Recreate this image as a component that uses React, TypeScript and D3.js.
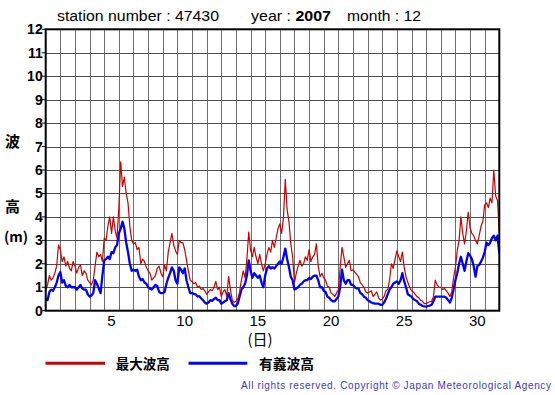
import React from "react";
import * as d3 from "d3";

// 3-hourly readings, December 2007, station 47430 (index i -> day offset i*3/24)
const maxWave: number[] = [
  0.85, 1.1, 1.5, 1.3, 1.4, 1.6, 1.9, 2.8,
  2.6, 2.1, 2.3, 1.9, 2.1, 1.8, 1.7, 2.1,
  1.9, 1.6, 1.85, 1.95, 1.5, 1.7, 1.6, 1.3,
  1.2, 1.1, 1.3, 1.9, 2.5, 2.3, 2.4, 2.1,
  3.1, 3.0, 3.6, 4.0, 3.3, 4.0, 3.4, 3.1,
  4.4, 6.35, 5.3, 5.7, 5.0, 4.6, 3.6, 3.0,
  2.85, 2.9, 2.6, 2.7, 2.0, 2.2, 2.1, 1.85,
  1.7, 1.6, 1.3, 1.4, 1.5, 1.8, 1.9, 1.6,
  1.45, 1.95, 1.7, 2.5, 2.9, 3.3, 2.8, 2.55,
  2.4, 3.0, 2.9, 2.9, 2.6, 2.15, 1.7, 1.3,
  1.25, 1.15, 1.2, 1.0, 1.05, 0.9, 0.95, 0.85,
  0.7, 0.8, 0.9, 0.85, 1.0, 1.25, 0.9, 1.0,
  0.6, 0.8, 0.9, 0.6, 1.45, 0.9, 0.45, 0.35,
  0.4, 0.5, 0.8, 1.3, 1.7, 1.4, 2.2, 3.35,
  2.6, 2.3, 2.7, 2.3, 2.0, 2.4, 2.0, 1.7,
  2.0, 2.4, 2.7, 2.5, 3.0, 2.7, 3.1, 3.5,
  3.7, 3.3, 4.0, 5.6, 4.3, 3.8, 2.85, 2.3,
  1.2, 1.6, 1.9, 2.15, 1.9, 2.0, 2.3, 2.15,
  2.6, 2.1, 2.3, 2.4, 2.85, 1.9, 1.45, 1.6,
  1.4, 1.3, 1.05, 1.0, 0.75, 0.7, 0.6, 0.75,
  0.9, 1.85, 2.7, 2.3, 1.85, 2.0, 2.15, 1.7,
  1.75, 1.65, 1.55, 1.45, 1.2, 1.1, 1.0, 0.8,
  0.75, 0.8, 0.85, 0.6, 0.7, 0.8, 0.55, 0.45,
  0.5, 0.6, 0.85, 0.9, 1.3, 2.0, 1.8, 2.2,
  2.55, 2.3, 2.1, 2.5, 1.85, 1.45, 1.2, 1.0,
  0.85, 0.8, 0.7, 0.6, 0.55, 0.45, 0.4, 0.3,
  0.3, 0.35, 0.38, 0.4, 0.6, 1.3, 1.1, 1.0,
  1.0, 0.9, 0.95, 0.85, 0.75, 0.6, 0.8, 1.4,
  1.85, 2.55, 3.0, 4.0, 3.3, 2.85, 3.4, 4.2,
  3.55, 3.3, 3.2, 3.0, 2.85, 3.2, 3.6, 3.8,
  4.5, 4.6, 4.4, 4.8, 4.6, 6.0, 4.9, 4.7, 3.4,
];

const sigWave: number[] = [
  0.5, 0.45, 0.8, 0.9, 0.85, 1.0, 1.2, 1.5,
  1.65, 1.2, 1.3, 1.05, 1.0, 1.1, 1.0, 1.0,
  1.0, 0.9, 1.0, 1.1, 0.95, 0.9, 0.9, 0.7,
  0.6, 0.65, 0.75, 1.3, 1.15, 0.95, 0.75, 1.5,
  2.15, 2.2, 2.3, 2.2, 2.5, 2.45, 2.7, 2.8,
  3.3, 3.5, 3.8, 3.5, 2.9, 2.5, 2.0, 1.7,
  1.75, 1.7, 1.75, 1.45, 1.3, 1.35, 1.2, 1.15,
  1.0, 0.95, 0.9, 1.0, 1.1, 1.05, 0.8, 0.75,
  0.75, 0.8, 1.15, 1.4, 1.6, 1.85, 1.7, 1.3,
  1.15, 1.85, 1.75, 1.6, 1.8, 1.3, 1.0, 0.75,
  0.75, 0.72, 0.7, 0.6, 0.62, 0.52, 0.45, 0.35,
  0.3, 0.35, 0.45, 0.42, 0.5, 0.55, 0.45, 0.45,
  0.3, 0.35, 0.4, 0.45, 0.75, 0.5, 0.3, 0.2,
  0.2, 0.3, 0.6, 0.9, 1.0, 1.15, 1.5, 2.15,
  1.7, 1.4, 1.6, 1.5, 1.4, 1.5, 1.2, 1.0,
  1.5, 1.8, 1.9, 1.8, 1.85, 1.8, 1.9, 2.0,
  2.1, 2.0, 2.3, 2.65, 2.2, 1.85, 1.45, 1.3,
  0.9, 0.95, 1.0, 1.1, 1.15, 1.25, 1.3, 1.3,
  1.4, 1.35, 1.45, 1.5, 1.5, 1.3, 1.0, 1.0,
  0.85, 0.8, 0.6, 0.55, 0.45, 0.4, 0.4, 0.5,
  0.6, 1.0, 1.75, 1.3, 1.15, 1.3, 1.3, 1.1,
  1.1, 1.0, 0.95, 0.95, 0.75, 0.7, 0.6, 0.55,
  0.45, 0.4, 0.35, 0.32, 0.3, 0.3, 0.3, 0.25,
  0.25, 0.35, 0.5, 0.7, 0.9, 1.0, 1.15, 1.2,
  1.25, 1.15, 1.3, 1.6, 1.25, 1.0, 0.7, 0.65,
  0.6, 0.5, 0.45, 0.4, 0.3, 0.25, 0.2, 0.18,
  0.17, 0.2, 0.22, 0.25, 0.4, 0.6, 0.6, 0.6,
  0.6, 0.6, 0.6, 0.55, 0.45, 0.35, 0.55, 0.9,
  1.3, 1.6, 2.0, 2.3, 2.0, 1.7, 2.1, 2.45,
  2.35, 2.2, 1.9, 1.45, 1.9, 1.95, 2.1, 2.25,
  2.5, 2.9, 2.8, 2.9, 3.1, 3.2, 3.0, 3.2, 2.45,
];

const STEP_HOURS = 3;
const DAYS = 31;
const yTicks = d3.range(0, 13);
const xTickDays = [5, 10, 15, 20, 25, 30];
const legendLabels = ["最大波高", "有義波高"];
const title = { station: "47430", year: "2007", month: "12" };

const W = 555;
const H = 395;
const L = 45.7;
const R = 499.3;
const T = 29.3;
const B = 310.7;

const RED = "#cc0000";
const BLUE = "#0000ff";

export default function App() {
  const x = d3.scaleLinear().domain([0, DAYS]).range([L, R]);
  const y = d3.scaleLinear().domain([0, 12]).range([B, T]);
  const t = (i: number) => (i * STEP_HOURS) / 24;
  const line = d3
    .line<number>()
    .x((_, i) => x(t(i)))
    .y((v) => y(v));

  const sans = "'Liberation Sans', Arial, Helvetica, sans-serif";
  const cjk = "'Noto Sans CJK JP', 'Noto Sans CJK SC', sans-serif";

  return (
    <svg
      width={W}
      height={H}
      style={{ position: "absolute", left: 0, top: 0, background: "#fff" }}
    >
      <rect x={0} y={0} width={W} height={H} fill="#fff" />
      {/* title */}
      <g fontFamily={sans} fontSize={14} fill="#000">
        <text x={57} y={21} textLength={162} lengthAdjust="spacingAndGlyphs">
          station number : {title.station}
        </text>
        <text x={251} y={21} textLength={80} lengthAdjust="spacingAndGlyphs">
          year : <tspan fontWeight="bold">{title.year}</tspan>
        </text>
        <text x={347} y={21} textLength={74} lengthAdjust="spacingAndGlyphs">
          month : {title.month}
        </text>
      </g>

      {/* grid */}
      <g>
        {d3.range(1, DAYS).map((d) => (
          <line
            key={"v" + d}
            x1={Math.round(x(d)) + 0.5}
            x2={Math.round(x(d)) + 0.5}
            y1={T}
            y2={B}
            stroke="#707070"
            strokeWidth={1}
          />
        ))}
        {yTicks.slice(1, 12).map((v) => (
          <line
            key={"h" + v}
            x1={L}
            x2={R}
            y1={Math.round(y(v)) + 0.5}
            y2={Math.round(y(v)) + 0.5}
            stroke="#505050"
            strokeWidth={1}
          />
        ))}
      </g>

      {/* series */}
      <defs>
        <clipPath id="plotclip">
          <rect x={L} y={T} width={R - L} height={B - T} />
        </clipPath>
      </defs>
      <g clipPath="url(#plotclip)">
        <path d={line(sigWave) || ""} fill="none" stroke={BLUE} strokeWidth={2.3} strokeLinejoin="round" />
        <path d={line(maxWave) || ""} fill="none" stroke={RED} strokeWidth={1.2} strokeLinejoin="round" />
      </g>

      {/* frame */}
      <rect x={L} y={T} width={R - L} height={B - T} fill="none" stroke="#000" strokeWidth={2} />

      {/* y axis ticks & labels */}
      <g fontFamily={sans} fontSize={14} fontWeight="bold" fill="#000">
        {yTicks.map((v) => (
          <g key={"yt" + v}>
            <line x1={L - 4} x2={L} y1={y(v)} y2={y(v)} stroke="#000" strokeWidth={1} />
            <text x={L - 3} y={y(v) + 5} textAnchor="end">
              {v}
            </text>
          </g>
        ))}
      </g>

      {/* x axis labels */}
      <g fontFamily={sans} fontSize={15} fill="#000">
        {xTickDays.map((d) => (
          <text key={"xt" + d} x={x(d - 0.5)} y={326} textAnchor="middle">
            {d}
          </text>
        ))}
      </g>
      <text x={260} y={345} textAnchor="middle" fontFamily={cjk} fontSize={15} fill="#000">
        (日)
      </text>

      {/* y axis title */}
      <g fontFamily={cjk} fontSize={15} fontWeight="bold" fill="#000" textAnchor="middle">
        <text x={12.5} y={147}>波</text>
        <text x={12.5} y={212}>高</text>
      </g>
      <text x={4} y={242} fontFamily={cjk} fontSize={14} fontWeight="bold" fill="#000">
        (m)
      </text>

      {/* legend */}
      <line x1={45.5} x2={105} y1={363.3} y2={363.3} stroke={RED} strokeWidth={3} />
      <text x={115.7} y={368.5} fontFamily={cjk} fontSize={14} fontWeight="bold" textLength={54} lengthAdjust="spacingAndGlyphs">
        {legendLabels[0]}
      </text>
      <line x1={188.6} x2={247.3} y1={363.3} y2={363.3} stroke={BLUE} strokeWidth={3} />
      <text x={259} y={368.5} fontFamily={cjk} fontSize={14} fontWeight="bold" textLength={55} lengthAdjust="spacingAndGlyphs">
        {legendLabels[1]}
      </text>

      {/* copyright */}
      <text
        x={241}
        y={388.5}
        fontFamily={sans}
        fontSize={10}
        fill="#3a3acc"
        textLength={310}
        lengthAdjust="spacing"
      >
        All rights reserved. Copyright © Japan Meteorological Agency
      </text>
    </svg>
  );
}
